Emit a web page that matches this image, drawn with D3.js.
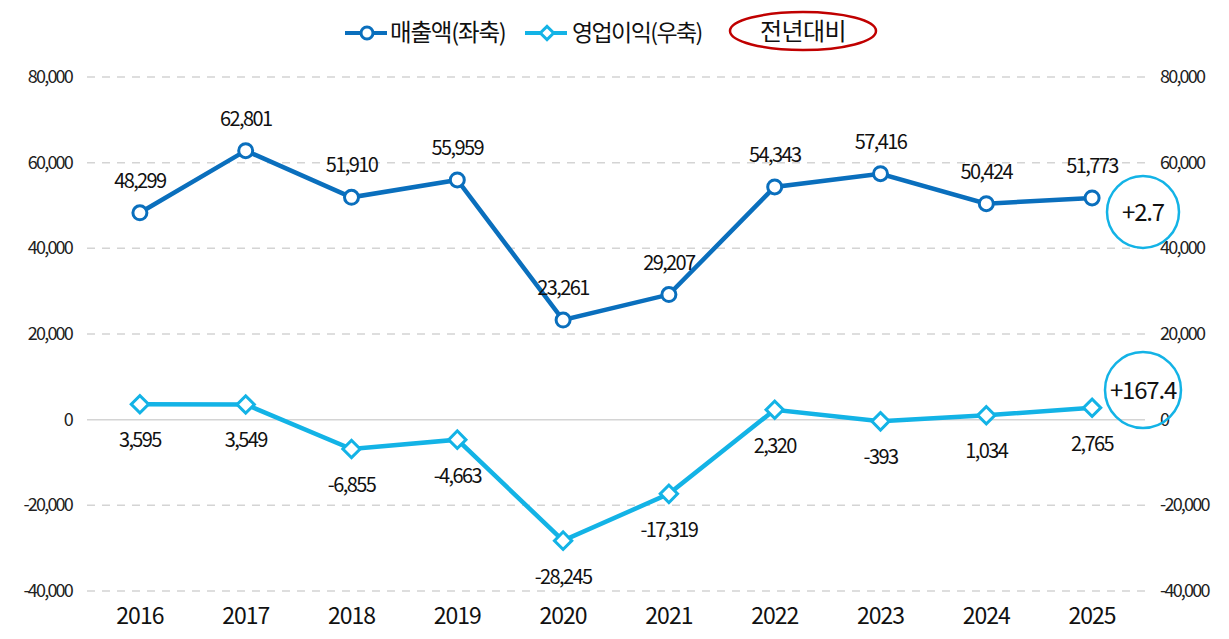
<!DOCTYPE html>
<html>
<head>
<meta charset="utf-8">
<script src="https://cdn.jsdelivr.net/npm/d3@7"></script>
<style>
  body { margin: 0; background: #fff; }
  svg { font-family: "Noto Sans CJK KR", "Noto Sans", sans-serif; }
</style>
</head>
<body>
<svg></svg>
<script>
let years = ['2016','2017','2018','2019','2020','2021','2022','2023','2024','2025']
let sales = [48299, 62801, 51910, 55959, 23261, 29207, 54343, 57416, 50424, 51773]
let profit = [3595, 3549, -6855, -4663, -28245, -17319, 2320, -393, 1034, 2765]
let ticks = [80000, 60000, 40000, 20000, 0, -20000, -40000]
let yoySales = '+2.7'
let yoyProfit = '+167.4'

let w = 1229
let h = 639
let left = 87
let right = 1145

let svg = d3.select('svg').attr('width', w).attr('height', h)

let xScale = d3.scaleBand().domain(years).range([left, right])
let yScale = d3.scaleLinear().domain([-40000, 80000]).range([591, 77])
let cx = (d) => xScale(d) + xScale.bandwidth() / 2
// plain hyphen for minus, like the original
let fmt = d3.formatLocale({decimal: '.', thousands: ',', grouping: [3], currency: ['', ''], minus: '-'}).format(',')

let salesColor = '#0a6fbd'
let profitColor = '#13b3e6'

// gridlines
svg.selectAll('.grid')
   .data(ticks)
   .enter()
   .append('line')
   .attr('x1', left).attr('x2', right)
   .attr('y1', (d) => yScale(d)).attr('y2', (d) => yScale(d))
   .attr('stroke', '#d4d4d4')
   .attr('stroke-width', 1.5)
   .attr('stroke-dasharray', (d) => d == 0 ? null : '8,7')

// left + right tick labels
svg.selectAll('.ly')
   .data(ticks)
   .enter()
   .append('text')
   .attr('x', 72).attr('y', (d) => yScale(d) + 6)
   .attr('text-anchor', 'end')
   .attr('font-size', 18).attr('letter-spacing', -1.8)
   .attr('fill', '#222')
   .text((d) => fmt(d))
svg.selectAll('.ry')
   .data(ticks)
   .enter()
   .append('text')
   .attr('x', 1160).attr('y', (d) => yScale(d) + 6)
   .attr('text-anchor', 'start')
   .attr('font-size', 18).attr('letter-spacing', -1.8)
   .attr('fill', '#222')
   .text((d) => fmt(d))

// year labels
svg.selectAll('.yr')
   .data(years)
   .enter()
   .append('text')
   .attr('x', (d) => cx(d)).attr('y', 624)
   .attr('text-anchor', 'middle')
   .attr('font-size', 23).attr('font-weight', 400).attr('letter-spacing', -1)
   .attr('fill', '#111')
   .text((d) => d)

let line = d3.line().x((d, i) => cx(years[i])).y((d) => yScale(d))

// sales
svg.append('path').datum(sales)
   .attr('d', line).attr('fill', 'none')
   .attr('stroke', salesColor).attr('stroke-width', 4.5)
svg.selectAll('.sdot')
   .data(sales)
   .enter()
   .append('circle')
   .attr('cx', (d, i) => cx(years[i])).attr('cy', (d) => yScale(d))
   .attr('r', 7)
   .attr('fill', '#fff').attr('stroke', salesColor).attr('stroke-width', 3)
svg.selectAll('.slab')
   .data(sales)
   .enter()
   .append('text')
   .attr('x', (d, i) => cx(years[i])).attr('y', (d) => yScale(d) - 25)
   .attr('text-anchor', 'middle')
   .attr('font-size', 20).attr('letter-spacing', -1.6)
   .attr('fill', '#111')
   .text((d) => fmt(d))

// profit
let diamond = d3.symbol().type(d3.symbolSquare).size(150)
svg.append('path').datum(profit)
   .attr('d', line).attr('fill', 'none')
   .attr('stroke', profitColor).attr('stroke-width', 4.5)
svg.selectAll('.pdot')
   .data(profit)
   .enter()
   .append('path')
   .attr('d', diamond)
   .attr('transform', (d, i) => 'translate(' + cx(years[i]) + ',' + yScale(d) + ') rotate(45)')
   .attr('fill', '#fff').attr('stroke', profitColor).attr('stroke-width', 3)
svg.selectAll('.plab')
   .data(profit)
   .enter()
   .append('text')
   .attr('x', (d, i) => cx(years[i])).attr('y', (d) => yScale(d) + 43)
   .attr('text-anchor', 'middle')
   .attr('font-size', 20).attr('letter-spacing', -1.6)
   .attr('fill', '#111')
   .text((d) => fmt(d))

// year-on-year bubbles
let bubbles = [{v: yoySales, y: 212, r: 36}, {v: yoyProfit, y: 390, r: 38}]
svg.selectAll('.bub')
   .data(bubbles)
   .enter()
   .append('circle')
   .attr('cx', 1143).attr('cy', (d) => d.y).attr('r', (d) => d.r)
   .attr('fill', 'none').attr('stroke', profitColor).attr('stroke-width', 2.5)
svg.selectAll('.bubt')
   .data(bubbles)
   .enter()
   .append('text')
   .attr('x', 1143).attr('y', (d) => d.y + 9)
   .attr('text-anchor', 'middle')
   .attr('font-size', 24).attr('letter-spacing', -1.2)
   .attr('fill', '#111')
   .text((d) => d.v)

// legend
let lg = svg.append('g')
lg.append('line').attr('x1', 345).attr('x2', 387).attr('y1', 33).attr('y2', 33)
  .attr('stroke', salesColor).attr('stroke-width', 4)
lg.append('circle').attr('cx', 367).attr('cy', 33).attr('r', 6)
  .attr('fill', '#fff').attr('stroke', salesColor).attr('stroke-width', 3)
lg.append('text').attr('x', 390).attr('y', 41)
  .attr('font-size', 23.5).attr('letter-spacing', -1.2).attr('fill', '#111')
  .text('매출액(좌축)')
lg.append('line').attr('x1', 525).attr('x2', 567).attr('y1', 33).attr('y2', 33)
  .attr('stroke', profitColor).attr('stroke-width', 4)
lg.append('path').attr('d', d3.symbol().type(d3.symbolSquare).size(90))
  .attr('transform', 'translate(547,33) rotate(45)')
  .attr('fill', '#fff').attr('stroke', profitColor).attr('stroke-width', 3)
lg.append('text').attr('x', 572).attr('y', 41)
  .attr('font-size', 23).attr('letter-spacing', -1.6).attr('fill', '#111')
  .text('영업이익(우축)')
lg.append('ellipse').attr('cx', 803).attr('cy', 31).attr('rx', 73).attr('ry', 19)
  .attr('fill', 'none').attr('stroke', '#c00000').attr('stroke-width', 2.5)
lg.append('text').attr('x', 803).attr('y', 40)
  .attr('text-anchor', 'middle')
  .attr('font-size', 24).attr('letter-spacing', -0.6).attr('fill', '#111')
  .text('전년대비')
</script>
</body>
</html>
